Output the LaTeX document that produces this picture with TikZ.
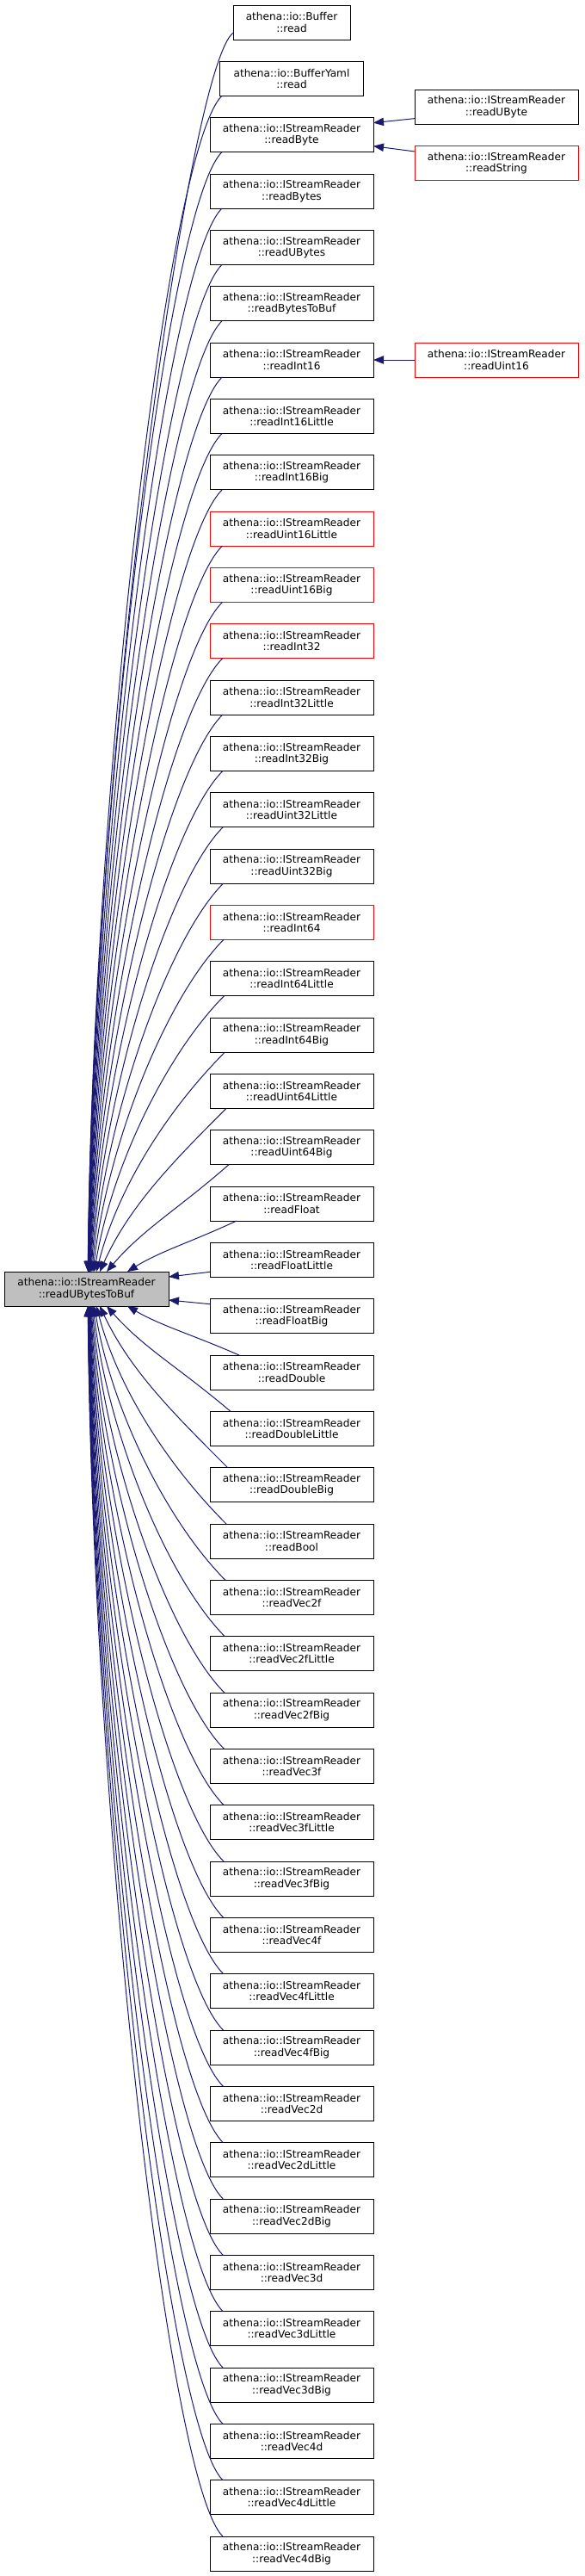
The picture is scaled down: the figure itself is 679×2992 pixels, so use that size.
\documentclass[tikz,border=0pt]{standalone}
\usepackage{fontspec}
\setmainfont{DejaVu Sans}
\usepackage{tikz}
\usetikzlibrary{arrows.meta,positioning,calc}
\definecolor{cgEdge}{HTML}{191970}
\definecolor{cgRed}{HTML}{FF0000}
\definecolor{cgGrey}{HTML}{BFBFBF}
\tikzset{
  fnbox/.style={rectangle,draw=black,line width=0.75pt,fill=white,
    minimum width=142.5pt,minimum height=30pt,inner sep=2pt,outer sep=0pt,
    align=center,font=\fontsize{9.1}{10}\selectfont},
  redbox/.style={fnbox,draw=cgRed},
  rootbox/.style={fnbox,fill=cgGrey,minimum width=143.25pt},
  arr/.style={->,>={Triangle[length=9pt,width=7pt]},line width=0.75pt,color=cgEdge},
}
\begin{document}
\begin{tikzpicture}[x=0.75pt,y=-0.75pt]
  \useasboundingbox (0,0) rectangle (679,2992);

  \node[fnbox,minimum width=102pt] (n1) at (339,26)
    {athena::io::Buffer\\::read};
  \node[fnbox,minimum width=125pt,below=19pt of n1] (n2)
    {athena::io::BufferYaml\\::read};

  \foreach \fn/\sty [count=\i from 3] in {readByte/fnbox,readBytes/fnbox,
      readUBytes/fnbox,readBytesToBuf/fnbox,readInt16/fnbox,readInt16Little/fnbox,
      readInt16Big/fnbox,readUint16Little/redbox,readUint16Big/redbox,
      readInt32/redbox,readInt32Little/fnbox,readInt32Big/fnbox,
      readUint32Little/fnbox,readUint32Big/fnbox,readInt64/redbox,
      readInt64Little/fnbox,readInt64Big/fnbox,readUint64Little/fnbox,
      readUint64Big/fnbox,readFloat/fnbox,readFloatLittle/fnbox,
      readFloatBig/fnbox,readDouble/fnbox,readDoubleLittle/fnbox,
      readDoubleBig/fnbox,readBool/fnbox,readVec2f/fnbox,readVec2fLittle/fnbox,
      readVec2fBig/fnbox,readVec3f/fnbox,readVec3fLittle/fnbox,readVec3fBig/fnbox,
      readVec4f/fnbox,readVec4fLittle/fnbox,readVec4fBig/fnbox,readVec2d/fnbox,
      readVec2dLittle/fnbox,readVec2dBig/fnbox,readVec3d/fnbox,
      readVec3dLittle/fnbox,readVec3dBig/fnbox,readVec4d/fnbox,
      readVec4dLittle/fnbox,readVec4dBig/fnbox}{
    \pgfmathtruncatemacro\prev{\i-1}
    \node[\sty,below=19pt of n\prev] (n\i) {athena::io::IStreamReader\\::\fn};
  }

  \node[rootbox] (root) at (100.5,1497)
    {athena::io::IStreamReader\\::readUBytesToBuf};

  \node[fnbox,right=36pt of n3,yshift=24.4pt] (ubyte)
    {athena::io::IStreamReader\\::readUByte};
  \node[redbox,below=19pt of ubyte] (rstring)
    {athena::io::IStreamReader\\::readString};
  \node[redbox,right=36pt of n7] (ruint16)
    {athena::io::IStreamReader\\::readUint16};

  % callers above the root
  \draw[arr] ($(n1.west)+(0,12)$) .. controls +(-55,45) and +(5,-575)
    .. ($(root.north)+(1.7,0)$);
  \foreach \i in {2,...,22}{
    \pgfmathsetmacro\k{23-\i}
    \pgfmathsetmacro\V{1431-65.33*(\i-1)}
    \pgfmathsetmacro\H{157-30/\k}
    \pgfmathsetmacro\sx{-82+18/\k}
    \pgfmathsetmacro\ex{-0.5+48/\k}
    \pgfmathsetmacro\ax{-0.42*\H}
    \pgfmathsetmacro\ay{0.42*min(\H,\V)}
    \pgfmathsetmacro\bx{0.3*\H*min(1,\H/\V)}
    \pgfmathsetmacro\by{-0.4*\V}
    \draw[arr] ($(n\i.south)+(\sx,0)$) .. controls +(\ax,\ay) and +(\bx,\by)
      .. ($(root.north)+(\ex,0)$);
  }

  % callers level with the root
  \draw[arr] ($(n23.west)+(0,14)$) -- ($(root.east)+(0,-14)$);
  \draw[arr] ($(n24.west)+(0,-14)$) -- ($(root.east)+(0,13)$);

  % callers below the root
  \foreach \i in {25,...,46}{
    \pgfmathsetmacro\k{\i-24}
    \pgfmathsetmacro\V{65.33*(\i-1)-1511}
    \pgfmathsetmacro\H{158-28/\k}
    \pgfmathsetmacro\sx{-81+20/\k}
    \pgfmathsetmacro\ex{-0.5+48/\k}
    \pgfmathsetmacro\ax{-0.42*\H}
    \pgfmathsetmacro\ay{-0.42*min(\H,\V)}
    \pgfmathsetmacro\bx{0.3*\H*min(1,\H/\V)}
    \pgfmathsetmacro\by{0.4*\V}
    \draw[arr] ($(n\i.north)+(\sx,0)$) .. controls +(\ax,\ay) and +(\bx,\by)
      .. ($(root.south)+(\ex,0)$);
  }

  % second level callers
  \draw[arr] ($(ubyte.west)+(0,13.5)$) -- ($(n3.east)+(0,-14)$);
  \draw[arr] ($(rstring.west)+(0,-13.5)$) -- ($(n3.east)+(0,13)$);
  \draw[arr] (ruint16) -- (n7);

\end{tikzpicture}
\end{document}
